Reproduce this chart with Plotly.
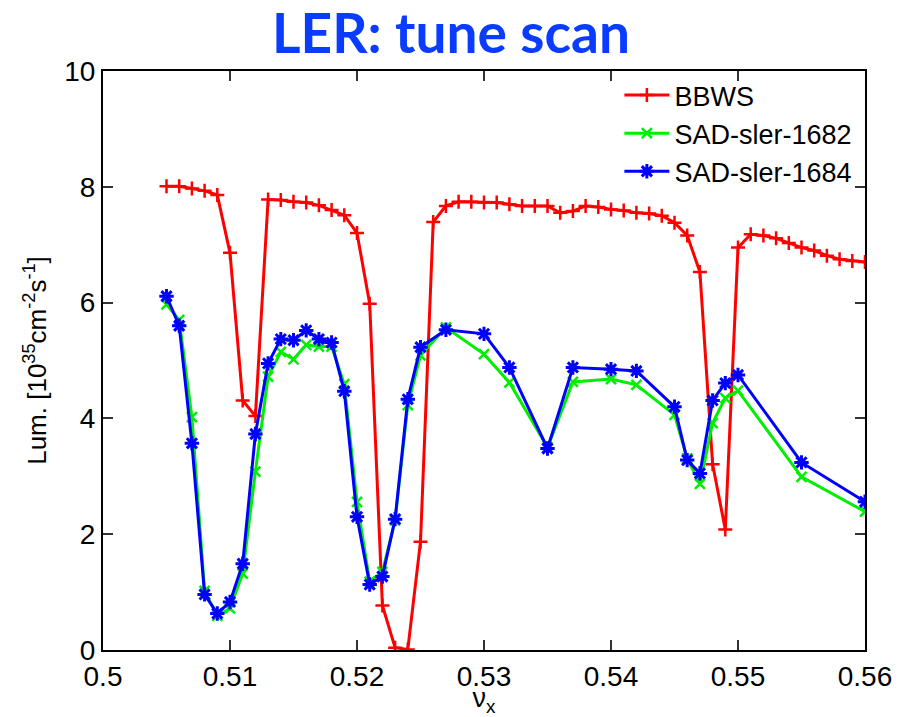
import plotly.graph_objects as go

# ---- data ----
bbws_x = [0.505, 0.506, 0.507, 0.508, 0.509, 0.510, 0.511, 0.512, 0.513, 0.514,
          0.515, 0.516, 0.517, 0.518, 0.519, 0.520, 0.521, 0.522, 0.523, 0.524,
          0.525, 0.526, 0.527, 0.528, 0.529, 0.530, 0.531, 0.532, 0.533, 0.534,
          0.535, 0.536, 0.537, 0.538, 0.539, 0.540, 0.541, 0.542, 0.543, 0.544,
          0.545, 0.546, 0.547, 0.548, 0.549, 0.550, 0.551, 0.552, 0.553, 0.554,
          0.555, 0.556, 0.557, 0.558, 0.559, 0.560]
bbws_y = [8.01, 8.01, 7.97, 7.93, 7.86, 6.86, 4.31, 4.04, 7.78, 7.77,
          7.74, 7.73, 7.68, 7.60, 7.51, 7.20, 5.98, 0.77, 0.04, 0.01,
          1.87, 7.39, 7.67, 7.74, 7.74, 7.73, 7.73, 7.70, 7.67, 7.67,
          7.67, 7.55, 7.58, 7.67, 7.65, 7.61, 7.59, 7.55, 7.54, 7.50,
          7.38, 7.16, 6.53, 3.21, 2.08, 6.95, 7.18, 7.16, 7.11, 7.03,
          6.95, 6.90, 6.81, 6.75, 6.72, 6.70]

sad_x = [0.505, 0.506, 0.507, 0.508, 0.509, 0.510, 0.511, 0.512, 0.513, 0.514,
         0.515, 0.516, 0.517, 0.518, 0.519, 0.520, 0.521, 0.522, 0.523, 0.524,
         0.525, 0.527, 0.530, 0.532, 0.535, 0.537, 0.540, 0.542, 0.545, 0.546,
         0.547, 0.548, 0.549, 0.550, 0.555, 0.560]
sad1682_y = [5.97, 5.70, 4.02, 1.02, 0.59, 0.72, 1.32, 3.08, 4.72, 5.15,
             5.02, 5.27, 5.24, 5.24, 4.59, 2.56, 1.18, 1.35, 2.24, 4.23,
             5.09, 5.57, 5.11, 4.62, 3.50, 4.63, 4.68, 4.58, 4.06, 3.31,
             2.87, 3.92, 4.35, 4.48, 2.99, 2.39]
sad1684_y = [6.11, 5.60, 3.57, 0.96, 0.63, 0.83, 1.49, 3.73, 4.95, 5.37,
             5.35, 5.52, 5.37, 5.31, 4.47, 2.30, 1.13, 1.27, 2.26, 4.33,
             5.23, 5.53, 5.46, 4.88, 3.48, 4.88, 4.85, 4.82, 4.20, 3.28,
             3.05, 4.31, 4.61, 4.75, 3.24, 2.56]

x_ticks = [0.5, 0.51, 0.52, 0.53, 0.54, 0.55, 0.56]
x_tick_labels = ["0.5", "0.51", "0.52", "0.53", "0.54", "0.55", "0.56"]
y_ticks = [0, 2, 4, 6, 8, 10]

FONT = "Liberation Sans, Arial, sans-serif"

fig = go.Figure()
fig.add_trace(go.Scatter(
    x=bbws_x, y=bbws_y, mode="lines+markers", name="BBWS",
    line=dict(color="#ff0000", width=3),
    marker=dict(symbol="cross-thin-open", size=10, line=dict(color="#ff0000", width=2.5)),
))
fig.add_trace(go.Scatter(
    x=sad_x, y=sad1682_y, mode="lines+markers", name="SAD-sler-1682",
    line=dict(color="#00ee00", width=3),
    marker=dict(symbol="x-thin-open", size=10, line=dict(color="#00ee00", width=2.5)),
))
fig.add_trace(go.Scatter(
    x=sad_x, y=sad1684_y, mode="lines+markers", name="SAD-sler-1684",
    line=dict(color="#0000ff", width=3),
    marker=dict(symbol="asterisk-open", size=12, line=dict(color="#0000ff", width=3)),
))

axis_common = dict(
    showline=True, linecolor="black", linewidth=2, mirror="ticks",
    ticks="inside", ticklen=10, tickwidth=1.5, tickcolor="#333333",
    showgrid=False, zeroline=False, automargin=False,
    tickfont=dict(family=FONT, size=28, color="black"),
)

fig.update_layout(
    width=902, height=717,
    margin=dict(l=103, r=37, t=71, b=67),
    paper_bgcolor="white", plot_bgcolor="white",
    title=dict(
        text="<b>LER: tune scan</b>",
        font=dict(family="Lato, sans-serif", size=55, color="#0a3cff"),
        x=0.5, xanchor="center", y=0.953, yanchor="middle",
    ),
    xaxis=dict(
        range=[0.5, 0.56], tickvals=x_ticks, ticktext=x_tick_labels,
        title=dict(text="ν<sub>x</sub>", standoff=2,
                   font=dict(family=FONT, size=27, color="black")),
        **axis_common,
    ),
    yaxis=dict(
        range=[0, 10], tickvals=y_ticks,
        title=dict(text="Lum. [10<sup>35</sup>cm<sup>-2</sup>s<sup>-1</sup>]", standoff=10,
                   font=dict(family=FONT, size=26, color="black")),
        **axis_common,
    ),
    legend=dict(
        x=0.99, y=1.0, xanchor="right", yanchor="top",
        bgcolor="rgba(0,0,0,0)",
        font=dict(family=FONT, size=27, color="black"),
        tracegroupgap=0, itemwidth=45,
    ),
    showlegend=True,
)

fig.write_html("out.html",
               config={"displayModeBar": False},
               post_script="document.body.style.margin='0px';document.body.style.overflow='hidden';")
